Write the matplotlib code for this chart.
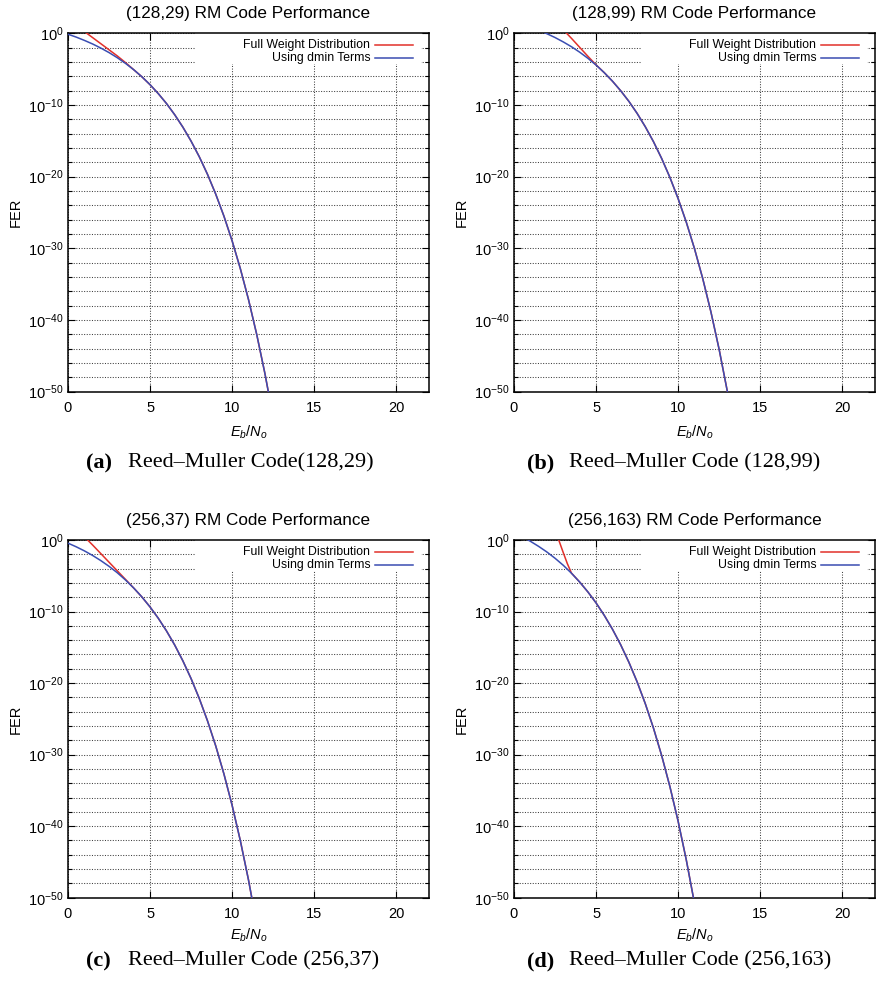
import matplotlib
matplotlib.use("Agg")
import matplotlib.pyplot as plt
from matplotlib.lines import Line2D
from matplotlib.patches import Rectangle
import numpy as np

plt.rcParams["font.family"] = ["Liberation Sans", "DejaVu Sans"]
plt.rcParams["mathtext.fontset"] = "custom"
plt.rcParams["mathtext.rm"] = "Liberation Sans"
plt.rcParams["mathtext.it"] = "Liberation Sans:italic"
plt.rcParams["mathtext.bf"] = "Liberation Sans:bold"
plt.rcParams["axes.unicode_minus"] = False

# Eb/No (dB) sample points and log10(FER)
ebno_a = [0.0, 0.5, 1.0, 1.5, 2.0, 2.5, 3.0, 3.5, 4.0, 4.5, 5.0, 5.5, 6.0,
          6.5, 7.0, 7.5, 8.0, 8.5, 9.0, 9.5, 10.0, 10.5, 11.0, 11.5, 12.0, 12.5]
dmin_a = [-0.13, -0.53, -0.99, -1.49, -2.06, -2.69, -3.40, -4.19, -5.07, -6.06,
          -7.17, -8.41, -9.79, -11.35, -13.09, -15.04, -17.22, -19.67, -22.42,
          -25.49, -28.94, -32.81, -37.14, -42.00, -47.46, -53.57]
full_x_a = [1.0, 1.5, 2.0, 2.5, 3.0, 3.5]
full_a = [0.25, -0.60, -1.45, -2.30, -3.15, -4.08]

ebno_b = [1.5, 2.0, 2.5, 3.0, 3.5, 4.0, 4.5, 5.0, 5.5, 6.0, 6.5, 7.0, 7.5,
          8.0, 8.5, 9.0, 9.5, 10.0, 10.5, 11.0, 11.5, 12.0, 12.5, 13.0, 13.5]
dmin_b = [0.44, -0.05, -0.59, -1.20, -1.87, -2.63, -3.48, -4.43, -5.49, -6.68,
          -8.01, -9.49, -11.16, -13.03, -15.12, -17.47, -20.10, -23.05, -26.35,
          -30.05, -34.20, -38.86, -44.08, -49.94, -56.50]
full_x_b = [3.0, 3.5, 4.0, 4.5, 5.0]
full_b = [0.50, -0.70, -1.95, -3.20, -4.40]

ebno_c = [0.0, 0.5, 1.0, 1.5, 2.0, 2.5, 3.0, 3.5, 4.0, 4.5, 5.0, 5.5, 6.0,
          6.5, 7.0, 7.5, 8.0, 8.5, 9.0, 9.5, 10.0, 10.5, 11.0, 11.5]
dmin_c = [-0.44, -0.95, -1.52, -2.16, -2.88, -3.68, -4.57, -5.58, -6.70, -7.95,
          -9.36, -10.93, -12.70, -14.67, -16.89, -19.37, -22.15, -25.27, -28.76,
          -32.68, -37.07, -42.00, -47.52, -53.72]
full_x_c = [1.0, 1.5, 2.0, 2.5, 3.0, 3.5]
full_c = [0.45, -0.70, -1.90, -3.10, -4.30, -5.50]

ebno_d = [0.5, 1.0, 1.5, 2.0, 2.5, 3.0, 3.5, 4.0, 4.5, 5.0, 5.5, 6.0, 6.5,
          7.0, 7.5, 8.0, 8.5, 9.0, 9.5, 10.0, 10.5, 11.0]
dmin_d = [0.45, -0.18, -0.89, -1.67, -2.55, -3.53, -4.64, -5.87, -7.25, -8.79,
          -10.53, -12.47, -14.64, -17.08, -19.81, -22.87, -26.30, -30.14, -34.46,
          -39.29, -44.72, -50.80]
full_x_d = [2.5, 2.75, 3.0, 3.25, 3.5]
full_d = [1.20, -0.15, -1.75, -3.30, -4.62]

titles = ["(128,29) RM Code Performance", "(128,99) RM Code Performance",
          "(256,37) RM Code Performance", "(256,163) RM Code Performance"]
tags = ["(a)", "(b)", "(c)", "(d)"]
captions = ["Reed\u2013Muller Code(128,29)", "Reed\u2013Muller Code (128,99)",
            "Reed\u2013Muller Code (256,37)", "Reed\u2013Muller Code (256,163)"]

major_y = [0, -10, -20, -30, -40, -50]
minor_y = [-2, -4, -6, -8, -12, -14, -16, -18, -22, -24, -26, -28,
           -32, -34, -36, -38, -42, -44, -46, -48]
x_ticks = [0, 5, 10, 15, 20]

RED = "#e2302a"
BLUE = "#3a4db2"

W, H = 876, 981
fig = plt.figure(figsize=(W / 100, H / 100), dpi=100)

panels = [
    (ebno_a, dmin_a, full_x_a, full_a),
    (ebno_b, dmin_b, full_x_b, full_b),
    (ebno_c, dmin_c, full_x_c, full_c),
    (ebno_d, dmin_d, full_x_d, full_d),
]
# pixel boxes (left, top, width, height)
boxes = [(68, 33.3, 361, 358.4), (514, 33.3, 361, 358.4),
         (68, 540, 361, 357.7), (514, 540, 361, 357.7)]

for i, (x, yd, fx, fy) in enumerate(panels):
    l, t, w, h = boxes[i]
    ax = fig.add_axes([l / W, 1 - (t + h) / H, w / W, h / H])

    x = np.array(x)
    yd = 10.0 ** np.array(yd)
    # full weight curve joins the dmin curve once they coincide
    m = np.searchsorted(x, fx[-1], side="right")
    xf = np.r_[fx, x[m:]]
    yf = np.r_[10.0 ** np.array(fy), yd[m:]]

    ax.plot(xf, yf, color=RED, lw=1.1, zorder=3)
    ax.plot(x, yd, color=BLUE, lw=1.1, zorder=4)

    ax.set_yscale("log")
    ax.set_xlim(0, 22)
    ax.set_ylim(1e-50, 1e0)

    ax.set_yticks([10.0 ** v for v in major_y])
    ax.set_yticklabels(["$10^{%d}$" % v for v in major_y])
    ax.set_yticks([10.0 ** v for v in minor_y], minor=True)
    ax.set_yticklabels([], minor=True)
    ax.set_xticks(x_ticks)
    ax.set_xticklabels([str(v) for v in x_ticks])
    ax.xaxis.set_minor_locator(matplotlib.ticker.NullLocator())

    ax.tick_params(which="both", direction="in", top=True, right=True,
                   labelsize=10.5, width=0.8)
    ax.tick_params(which="major", length=5)
    ax.tick_params(which="minor", length=3)
    ax.tick_params(axis="x", pad=7)
    ax.tick_params(axis="y", pad=3)

    ax.grid(True, axis="y", which="both", color="0.25",
            linestyle=(0, (1, 1.5)), lw=0.75, zorder=0.5)
    ax.grid(True, axis="x", which="major", color="0.25",
            linestyle=(0, (1, 1.5)), lw=0.75, zorder=0.5)
    ax.set_axisbelow(True)
    for s in ax.spines.values():
        s.set_linewidth(1.1)

    ax.set_title(titles[i], fontsize=12.3, pad=11)
    ax.set_xlabel("$E_b/N_o$", fontsize=10.5, labelpad=6 if i < 2 else 4)
    ax.set_ylabel("FER", fontsize=10.5)
    ax.yaxis.set_label_coords(-0.125, 0.5)

    # gnuplot style key: opaque box, right aligned text, sample on the right
    ax.add_patch(Rectangle((0.352, 0.914), 0.625, 0.086, transform=ax.transAxes,
                           facecolor="white", edgecolor="none", zorder=1))
    for k, (lab, c) in enumerate([("Full Weight Distribution", RED),
                                  ("Using dmin Terms", BLUE)]):
        yy = 0.967 - 0.037 * k
        ax.text(0.837, yy, lab, transform=ax.transAxes, ha="right",
                va="center", fontsize=8.8, zorder=5)
        ax.add_line(Line2D([0.850, 0.956], [yy, yy], transform=ax.transAxes,
                           color=c, lw=1.1, zorder=5))

    # sub-figure caption
    cy = 463 if i < 2 else 961
    cx = 86 if i % 2 == 0 else 527
    fig.text(cx / W, 1 - cy / H, tags[i], fontfamily="Liberation Serif",
             fontweight="bold", fontsize=16, ha="left", va="center")
    fig.text((cx + 42) / W, 1 - cy / H, captions[i], fontfamily="Liberation Serif",
             fontsize=16, ha="left", va="center")

fig.savefig("out.png", dpi=100)
